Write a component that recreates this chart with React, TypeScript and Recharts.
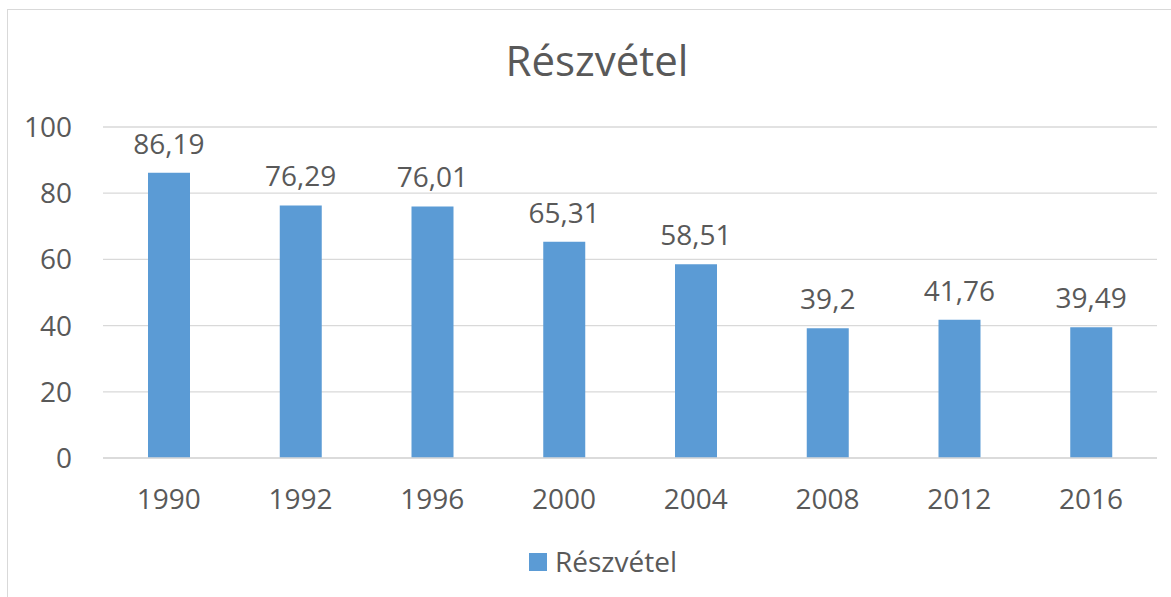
import { BarChart, Bar, XAxis, YAxis, CartesianGrid, Legend, LabelList } from 'recharts';

const years = ['1990', '1992', '1996', '2000', '2004', '2008', '2012', '2016'];
const turnout = [86.19, 76.29, 76.01, 65.31, 58.51, 39.2, 41.76, 39.49];
const yTicks = [0, 20, 40, 60, 80, 100];

const seriesName = 'Részvétel';
const barColor = '#5B9BD5';
const textColor = '#595959';
const gridColor = '#D9D9D9';
const font = '"Open Sans", sans-serif';

const data = years.map((year, i) => ({ year, value: turnout[i] }));

function LegendBox(props: any) {
  const items = props.payload || [];
  return (
    <div style={{ display: 'flex', alignItems: 'center', fontFamily: font }}>
      {items.map((item: any) => (
        <div key={item.value} style={{ display: 'flex', alignItems: 'center' }}>
          <span style={{ width: 18, height: 18, background: item.color, marginRight: 8, marginTop: 2 }} />
          <span style={{ fontSize: 28, color: textColor, lineHeight: '28px' }}>{item.value}</span>
        </div>
      ))}
    </div>
  );
}

export default function App() {
  return (
    <div style={{ position: 'absolute', left: 0, top: 0, width: 1171, height: 597, overflow: 'hidden', background: '#fff' }}>
      <div style={{ position: 'absolute', left: 7, top: 9, width: 1200, height: 620, border: `1px solid ${gridColor}` }} />
      <div
        style={{
          position: 'absolute', left: 0, top: 39, width: 1194, textAlign: 'center',
          fontFamily: font, fontSize: 42, lineHeight: '42px', color: textColor,
        }}
      >
        Részvétel
      </div>
      <div style={{ position: 'absolute', left: 0, top: 0 }}>
        <BarChart width={1171} height={597} data={data} margin={{ top: 127, right: 14, bottom: 70, left: 0 }}>
          <CartesianGrid vertical={false} stroke={gridColor} strokeWidth={1.3} />
          <XAxis
            dataKey="year"
            height={69}
            tickSize={0}
            tickMargin={31}
            axisLine={{ stroke: gridColor, strokeWidth: 1.5 }}
            tickLine={false}
            tick={{ fontSize: 28, fill: textColor, fontFamily: font }}
          />
          <YAxis
            width={103}
            domain={[0, 100]}
            ticks={yTicks}
            tickSize={0}
            tickMargin={31}
            axisLine={false}
            tickLine={false}
            tick={{ fontSize: 28, fill: textColor, fontFamily: font }}
          />
          <Legend
            layout="horizontal"
            verticalAlign="middle"
            wrapperStyle={{ top: 547, left: 529, width: 'auto' }}
            content={<LegendBox />}
          />
          <Bar dataKey="value" name={seriesName} fill={barColor} barSize={42} isAnimationActive={false}>
            <LabelList
              dataKey="value"
              position="top"
              offset={19}
              formatter={(v: any) => String(v).replace('.', ',')}
              style={{ fontSize: 28, fill: textColor, fontFamily: font }}
            />
          </Bar>
        </BarChart>
      </div>
    </div>
  );
}
